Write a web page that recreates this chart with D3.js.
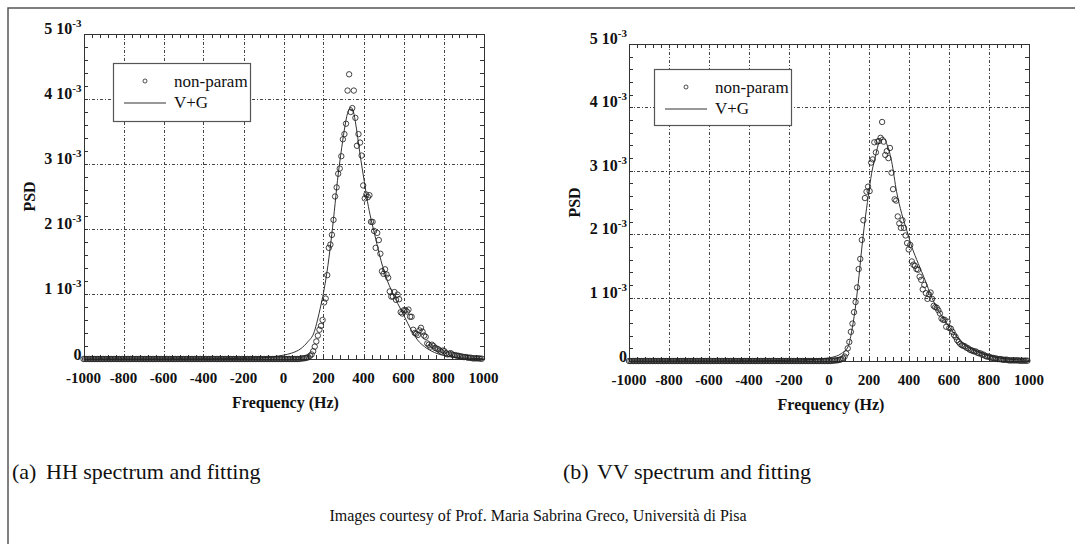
<!DOCTYPE html>
<html><head><meta charset="utf-8">
<script src="https://cdn.jsdelivr.net/npm/d3@7"></script>
<style>body{margin:0;background:#fff}svg{display:block}</style>
</head><body><svg id="c" width="1075" height="544"></svg>
<script>
// ---------- data ----------
const freqStart = -1000;          // Hz, first bin of the spectral estimate
const freqStep = 7.8125;          // Hz, bin width (256 bins over 2000 Hz)
const xTickValues = [-1000, -800, -600, -400, -200, 0, 200, 400, 600, 800, 1000];
const yTickValues = [0, 1, 2, 3, 4, 5];          // units of 1e-3
const yTickMantissa = ["0", "1 10", "2 10", "3 10", "4 10", "5 10"];
const yTickExponent = ["", "-3", "-3", "-3", "-3", "-3"];
const legendLabels = ["non-param", "V+G"];
const captionTags = ["(a)", "(b)"];
const captionTexts = ["HH spectrum and fitting", "VV spectrum and fitting"];
const creditText = "Images courtesy of Prof. Maria Sabrina Greco, Università di Pisa";

// non-parametric PSD estimate, HH (x1e-3), 256 bins
const psdHH = [
0,0,0,0,0,0,0,0,0,0,0,0,0,0,0,0,
0,0,0,0,0,0,0,0,0,0,0,0,0,0,0,0,
0,0,0,0,0,0,0,0,0,0,0,0,0,0,0,0,
0,0,0,0,0,0,0,0,0,0,0,0,0,0,0,0,
0,0,0,0,0,0,0,0,0,0,0,0,0,0,0,0,
0,0,0,0,0,0,0,0,0,0,0,0,0,0,0,0,
0,0,0,0,0,0,0,0,0,0,0,0,0,0,0,0,
0,0,0,0,0,0,0,0,0,0,0,0,0,0,0,0,
0,0,0,0,0,0,0,0,0,0,0,0.005,0.01,0.01,0.015,0.02,
0.03,0.05,0.07,0.12,0.19,0.27,0.36,0.45,0.51,0.60,0.87,0.93,1.29,1.71,1.76,1.91,
2.14,2.50,2.64,2.85,2.93,3.12,3.38,3.46,3.62,4.13,4.38,3.80,3.86,4.13,3.71,3.28,
3.46,3.33,3.13,2.67,2.47,2.53,2.49,2.52,2.11,2.11,1.97,1.71,1.94,1.83,1.62,1.35,
1.31,1.38,1.30,1.25,1.04,0.96,0.96,1.03,0.91,0.99,0.92,0.72,0.70,0.75,0.75,0.73,
0.76,0.65,0.65,0.45,0.40,0.39,0.37,0.44,0.48,0.42,0.36,0.34,0.24,0.22,0.19,0.22,
0.20,0.17,0.16,0.15,0.13,0.11,0.13,0.12,0.09,0.07,0.08,0.09,0.07,0.06,0.06,0.05,
0.05,0.04,0.04,0.03,0.03,0.03,0.02,0.02,0.02,0.01,0.01,0.01,0.01,0.01,0.005,0.005
];
// non-parametric PSD estimate, VV (x1e-3), 256 bins
const psdVV = [
0,0,0,0,0,0,0,0,0,0,0,0,0,0,0,0,
0,0,0,0,0,0,0,0,0,0,0,0,0,0,0,0,
0,0,0,0,0,0,0,0,0,0,0,0,0,0,0,0,
0,0,0,0,0,0,0,0,0,0,0,0,0,0,0,0,
0,0,0,0,0,0,0,0,0,0,0,0,0,0,0,0,
0,0,0,0,0,0,0,0,0,0,0,0,0,0,0,0,
0,0,0,0,0,0,0,0,0,0,0,0,0,0,0,0,
0,0,0,0,0,0,0,0,0,0,0,0,0,0,0,0,
0,0,0.005,0.005,0.01,0.01,0.015,0.02,0.03,0.04,0.07,0.12,0.20,0.30,0.46,0.59,
0.77,0.93,1.16,1.45,1.61,1.91,2.22,2.57,2.67,2.75,2.68,3.13,3.18,3.45,3.29,3.46,
3.47,3.52,3.77,3.46,3.25,3.31,3.20,3.36,2.97,2.71,2.55,2.53,2.28,2.17,2.10,2.22,
2.10,1.98,1.86,1.76,1.83,1.57,1.52,1.50,1.45,1.44,1.33,1.28,1.13,1.20,1.07,0.98,
1.05,1.08,0.98,0.87,0.85,0.84,0.80,0.75,0.67,0.65,0.65,0.54,0.62,0.52,0.51,0.46,
0.41,0.38,0.33,0.30,0.27,0.25,0.24,0.23,0.21,0.20,0.18,0.17,0.16,0.15,0.15,0.13,
0.12,0.12,0.10,0.10,0.08,0.07,0.07,0.06,0.05,0.05,0.04,0.04,0.03,0.03,0.03,0.02,
0.02,0.02,0.02,0.01,0.01,0.01,0.01,0.01,0.01,0.01,0.005,0.005,0.005,0.005,0.005,0.005
];
// fitted model (Voigtian + Gaussian)
const fitFreqHH = [-1000,-800,-600,-400,-300,-200,-150,-100,-50,0,40,87,120,154,170,185,200,217,237,254,270,287,304,320,337,350,362,374,387,404,420,437,454,470,487,504,520,554,587,605,638,671,705,755,805,871,930,1000];
const fitHH = [0,0.001,0.002,0.004,0.006,0.01,0.014,0.02,0.035,0.06,0.09,0.16,0.26,0.42,0.6,0.8,1.02,1.33,1.8,2.27,2.75,3.16,3.52,3.78,3.87,3.8,3.6,3.34,3.06,2.73,2.42,2.16,1.94,1.73,1.52,1.34,1.2,0.96,0.76,0.65,0.45,0.29,0.19,0.10,0.05,0.02,0.01,0.005];
const fitFreqVV = [-1000,-800,-600,-400,-300,-200,-150,-100,-50,0,30,63,96,113,130,146,163,180,196,213,230,247,263,276,288,300,313,338,363,388,413,446,480,513,546,580,610,640,670,700,740,780,830,880,940,1000];
const fitVV = [0,0.001,0.002,0.004,0.006,0.01,0.014,0.02,0.03,0.05,0.07,0.12,0.23,0.46,0.8,1.22,1.75,2.22,2.59,2.96,3.2,3.42,3.53,3.52,3.43,3.32,3.15,2.67,2.33,2.07,1.81,1.54,1.28,1.01,0.8,0.64,0.5,0.38,0.28,0.21,0.15,0.1,0.06,0.035,0.02,0.01];

// ---------- layout ----------
const panels = [
  {psd: psdHH, fitF: fitFreqHH, fitV: fitHH, left: 83.5, top: 34, width: 400, height: 325,
   legend: {x: 113, y: 63, w: 137, h: 58}, caption: {x: 12, x2: 46, y: 479}},
  {psd: psdVV, fitF: fitFreqVV, fitV: fitVV, left: 629, top: 44, width: 400, height: 317,
   legend: {x: 654, y: 69, w: 137, h: 56}, caption: {x: 563, x2: 597, y: 479}}
];
const serif = "'Liberation Serif','Times New Roman',Times,serif";
const ink = "#222";

const svg = d3.select("#c");
svg.append("rect").attr("width", 1075).attr("height", 544).attr("fill", "#fff");
svg.append("path").attr("d", "M8,544V8H1075").attr("fill", "none")
  .attr("stroke", "#555").attr("stroke-width", 1.5);

panels.forEach((p, pi) => {
  const x = d3.scaleLinear().domain([-1000, 1000]).range([p.left, p.left + p.width]);
  const y = d3.scaleLinear().domain([0, 5]).range([p.top + p.height, p.top]);
  const g = svg.append("g");
  const bottom = p.top + p.height, right = p.left + p.width;

  // grid
  const gridStyle = s => s.attr("stroke", "#444").attr("stroke-width", 1)
      .attr("stroke-dasharray", "3,2,1,2").attr("shape-rendering", "crispEdges");
  g.selectAll(".vg").data(xTickValues.slice(1, -1)).join("line")
    .attr("x1", d => Math.round(x(d)) + 0.5).attr("x2", d => Math.round(x(d)) + 0.5)
    .attr("y1", p.top).attr("y2", bottom).call(gridStyle);
  g.selectAll(".hg").data(yTickValues.slice(1, -1)).join("line")
    .attr("y1", d => Math.round(y(d)) + 0.5).attr("y2", d => Math.round(y(d)) + 0.5)
    .attr("x1", p.left).attr("x2", right).call(gridStyle);

  // frame
  g.append("rect").attr("x", Math.round(p.left) + 0.5).attr("y", p.top + 0.5)
    .attr("width", p.width).attr("height", p.height)
    .attr("fill", "none").attr("stroke", "#333").attr("stroke-width", 1);

  // inward ticks
  const xt = d3.range(-1000, 1000.1, 40), yt = d3.range(0, 5.001, 0.2);
  const tk = s => s.attr("stroke", "#333").attr("stroke-width", 1).attr("shape-rendering", "crispEdges");
  g.selectAll(".xtb").data(xt).join("line")
    .attr("x1", d => Math.round(x(d)) + 0.5).attr("x2", d => Math.round(x(d)) + 0.5)
    .attr("y1", bottom).attr("y2", bottom - 4).call(tk);
  g.selectAll(".xtt").data(xt).join("line")
    .attr("x1", d => Math.round(x(d)) + 0.5).attr("x2", d => Math.round(x(d)) + 0.5)
    .attr("y1", p.top).attr("y2", p.top + 4).call(tk);
  g.selectAll(".ytl").data(yt).join("line")
    .attr("y1", d => Math.round(y(d)) + 0.5).attr("y2", d => Math.round(y(d)) + 0.5)
    .attr("x1", p.left).attr("x2", p.left + 4).call(tk);
  g.selectAll(".ytr").data(yt).join("line")
    .attr("y1", d => Math.round(y(d)) + 0.5).attr("y2", d => Math.round(y(d)) + 0.5)
    .attr("x1", right).attr("x2", right - 4).call(tk);

  // fitted curve
  const line = d3.line().x(d => x(d[0])).y(d => y(d[1])).curve(d3.curveMonotoneX);
  g.append("path").datum(p.fitF.map((f, i) => [f, p.fitV[i]]))
    .attr("d", line).attr("fill", "none").attr("stroke", "#333").attr("stroke-width", 1);

  // non-param points
  g.selectAll(".pt").data(p.psd).join("circle")
    .attr("cx", (d, i) => x(freqStart + i * freqStep)).attr("cy", d => y(d))
    .attr("r", 2.7).attr("fill", "none").attr("stroke", ink).attr("stroke-width", 0.85);

  // x tick labels
  g.selectAll(".xl").data(xTickValues).join("text")
    .attr("x", d => x(d)).attr("y", bottom + 24).attr("text-anchor", "middle")
    .attr("font-family", serif).attr("font-weight", "bold").attr("font-size", 15)
    .attr("fill", "#111").text(d => d);
  // y tick labels with exponent
  yTickValues.forEach((v, i) => {
    const t = g.append("text").attr("x", p.left - 2).attr("y", y(v) + (i === 0 ? 1 : 0))
      .attr("text-anchor", "end").attr("font-family", serif).attr("font-weight", "bold")
      .attr("font-size", 16).attr("fill", "#111");
    t.append("tspan").text(yTickMantissa[i]);
    if (yTickExponent[i]) t.append("tspan").attr("dy", -7).attr("font-size", 11).text(yTickExponent[i]);
  });
  // axis titles
  g.append("text").attr("x", (p.left + right) / 2 + 2).attr("y", bottom + 49)
    .attr("text-anchor", "middle").attr("font-family", serif).attr("font-weight", "bold")
    .attr("font-size", 16).attr("fill", "#111").text("Frequency (Hz)");
  g.append("text").attr("transform", `translate(${p.left - 49},${(p.top + bottom) / 2}) rotate(-90)`)
    .attr("text-anchor", "middle").attr("font-family", serif).attr("font-weight", "bold")
    .attr("font-size", 16).attr("fill", "#111").text("PSD");

  // legend
  const L = p.legend;
  g.append("rect").attr("x", L.x + 0.5).attr("y", L.y + 0.5).attr("width", L.w).attr("height", L.h)
    .attr("fill", "#fff").attr("stroke", "#555").attr("stroke-width", 1.2);
  g.append("circle").attr("cx", L.x + 32).attr("cy", L.y + 18).attr("r", 2)
    .attr("fill", "none").attr("stroke", ink).attr("stroke-width", 0.8);
  g.append("line").attr("x1", L.x + 11).attr("x2", L.x + 53)
    .attr("y1", L.y + 40).attr("y2", L.y + 40).attr("stroke", "#333").attr("stroke-width", 1);
  legendLabels.forEach((lab, i) => {
    g.append("text").attr("x", L.x + 61).attr("y", L.y + 24 + i * 21)
      .attr("font-family", serif).attr("font-size", 17).attr("fill", "#111").text(lab);
  });

  // caption
  svg.append("text").attr("x", p.caption.x).attr("y", p.caption.y)
    .attr("font-family", serif).attr("font-size", 22).attr("fill", "#111").text(captionTags[pi]);
  svg.append("text").attr("x", p.caption.x2).attr("y", p.caption.y)
    .attr("font-family", serif).attr("font-size", 22).attr("fill", "#111").text(captionTexts[pi]);
});

svg.append("text").attr("x", 538).attr("y", 521).attr("text-anchor", "middle")
  .attr("font-family", serif).attr("font-size", 16).attr("fill", "#111").text(creditText);
</script></body></html>
